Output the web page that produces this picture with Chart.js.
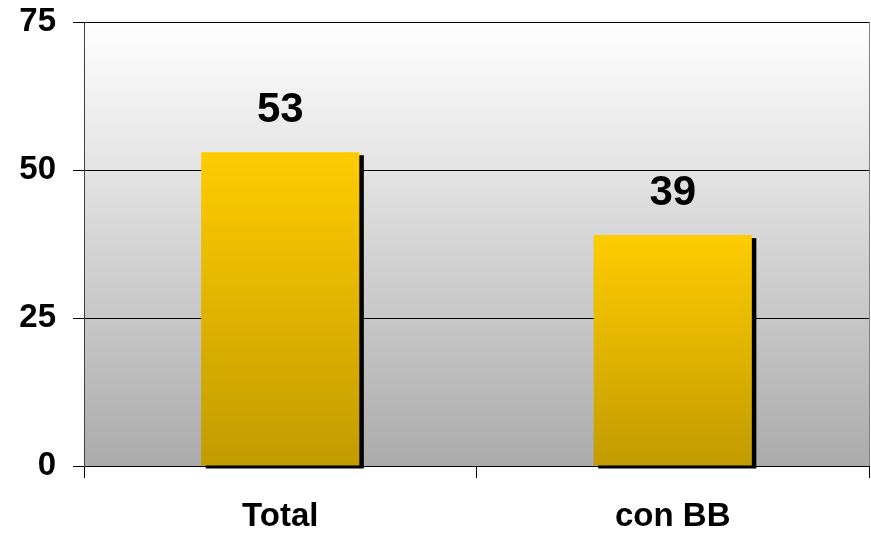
<!DOCTYPE html>
<html>
<head>
<meta charset="utf-8">
<script src="https://cdn.jsdelivr.net/npm/chart.js@4/dist/chart.umd.min.js"></script>
<style>
  html, body { margin: 0; padding: 0; background: #fff; }
  #wrap { width: 871px; height: 534px; }
</style>
</head>
<body>
<div id="wrap"><canvas id="c" width="871" height="534"></canvas></div>
<script>
// categories and values
const categories = ['Total', 'con BB'];
const values = [53, 39];
const yTicks = [0, 25, 50, 75];

const FONT = '"Liberation Sans", Arial, sans-serif';

// gray gradient behind the plot, drop shadow under bars, value labels on top
const plotDecor = {
  id: 'plotDecor',
  beforeDraw(chart) {
    const { ctx, chartArea: a } = chart;
    const g = ctx.createLinearGradient(0, a.top, 0, a.bottom);
    g.addColorStop(0, '#ffffff');
    g.addColorStop(1, '#ababab');
    ctx.save();
    ctx.fillStyle = g;
    ctx.fillRect(a.left, a.top, a.right - a.left, a.bottom - a.top);
    ctx.strokeStyle = '#808080';
    ctx.lineWidth = 1;
    ctx.beginPath();
    ctx.moveTo(a.right + 0.5, a.top);
    ctx.lineTo(a.right + 0.5, a.bottom);
    ctx.stroke();
    ctx.restore();
  },
  beforeDatasetsDraw(chart) {
    const { ctx } = chart;
    const meta = chart.getDatasetMeta(0);
    ctx.save();
    ctx.fillStyle = '#000';
    meta.data.forEach(bar => {
      const w = bar.width;
      ctx.fillRect(bar.x - w / 2 + 4.5, bar.y + 3, w, bar.base - bar.y);
    });
    ctx.restore();
  },
  afterDatasetsDraw(chart) {
    const { ctx } = chart;
    const meta = chart.getDatasetMeta(0);
    ctx.save();
    ctx.fillStyle = '#000';
    ctx.font = 'bold 42px ' + FONT;
    ctx.textAlign = 'center';
    ctx.textBaseline = 'alphabetic';
    meta.data.forEach((bar, i) => {
      ctx.fillText(String(values[i]), bar.x, bar.y - 30);
    });
    ctx.restore();
  }
};

// vertical gold gradient, one per bar
function barFill(context) {
  const chart = context.chart;
  const ys = chart.scales && chart.scales.y;
  if (!chart.chartArea || !ys) return '#ffcc00';
  const top = ys.getPixelForValue(values[context.dataIndex]);
  const bottom = ys.getPixelForValue(0);
  if (!isFinite(top) || !isFinite(bottom) || top === bottom) return '#ffcc00';
  const g = chart.ctx.createLinearGradient(0, top, 0, bottom);
  g.addColorStop(0, '#ffcc00');
  g.addColorStop(1, '#c29b00');
  return g;
}

new Chart(document.getElementById('c'), {
  type: 'bar',
  data: {
    labels: categories,
    datasets: [{
      data: values,
      backgroundColor: barFill,
      borderWidth: 0,
      categoryPercentage: 1,
      barPercentage: 0.403
    }]
  },
  options: {
    responsive: false,
    animation: false,
    devicePixelRatio: 1,
    layout: { padding: { top: 22, right: 2, bottom: 0, left: 0 } },
    plugins: {
      legend: { display: false },
      tooltip: { enabled: false }
    },
    scales: {
      x: {
        offset: true,
        grid: {
          offset: true,
          drawOnChartArea: false,
          drawTicks: true,
          tickLength: 12,
          color: '#000',
          lineWidth: 1
        },
        border: { display: true, color: '#000', width: 1 },
        ticks: {
          color: '#000',
          padding: 19,
          font: { family: FONT, size: 33, weight: 'bold' }
        },
        afterFit(scale) {
          scale.height = 68;
          scale.paddingLeft = 0;
          scale.paddingRight = 0;
        }
      },
      y: {
        min: 0,
        max: 75,
        afterBuildTicks(scale) { scale.ticks = yTicks.map(v => ({ value: v })); },
        grid: {
          color: '#000',
          lineWidth: 1,
          drawTicks: true,
          tickLength: 11
        },
        border: { display: true, color: '#404040', width: 1 },
        ticks: {
          color: '#000',
          padding: 17,
          font: { family: FONT, size: 33, weight: 'bold' }
        },
        afterFit(scale) {
          scale.width = 84;
          scale.paddingTop = 0;
          scale.paddingBottom = 0;
        }
      }
    }
  },
  plugins: [plotDecor]
});
</script>
</body>
</html>
